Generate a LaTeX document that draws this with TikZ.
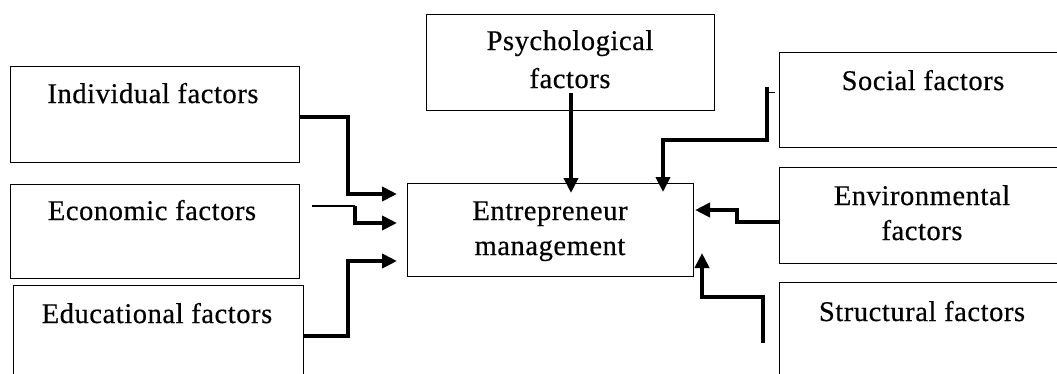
\documentclass[tikz,border=0pt]{standalone}
\usepackage{fontspec}
\setmainfont{Liberation Serif}
\newfontfamily\boxfont[LetterSpace=2.0,FakeBold=0.5]{Liberation Serif}
\usetikzlibrary{arrows.meta}
\begin{document}
\begin{tikzpicture}[x=1pt,y=-1pt,
  box/.style={draw=black,line width=1pt,rectangle,inner sep=0pt},
  txt/.style={anchor=base,inner sep=0pt,font=\boxfont\fontsize{28.5}{32}\selectfont},
  conn/.style={draw=black,line width=4pt,-{Triangle[length=15pt,width=14pt]}},
  plain/.style={draw=black,line width=4pt}]
\useasboundingbox (0,0) rectangle (1057,373);
\clip (0,0) rectangle (1057,373);
% boxes
\node[box,minimum width=289pt,minimum height=96pt] (ind) at (154.5,114) {};
\node[box,minimum width=289pt,minimum height=94pt] (eco) at (154.5,231) {};
\node[box,minimum width=290pt,minimum height=110pt] (edu) at (158,340) {};
\node[box,minimum width=288pt,minimum height=96pt] (psy) at (570,62) {};
\node[box,minimum width=286pt,minimum height=93pt] (cen) at (550,229.5) {};
\node[box,minimum width=296pt,minimum height=95pt] (soc) at (927,99.5) {};
\node[box,minimum width=296pt,minimum height=96pt] (env) at (927,215) {};
\node[box,minimum width=296pt,minimum height=113pt] (str) at (927,338.5) {};
% texts
\node[txt] (indt) at (153,103) {Individual factors};
\node[txt] (ecot) at (152,220) {Economic factors};
\node[txt] (edut) at (157,323) {Educational factors};
\node[txt] (psyt1) at (570,50) {Psychological};
\node[txt] (psyt2) at (570,88) {factors};
\node[txt] (cent1) at (550,220) {Entrepreneur};
\node[txt] (cent2) at (550,255) {management};
\node[txt] (soct) at (923,90) {Social factors};
\node[txt] (envt1) at (922,205) {Environmental};
\node[txt] (envt2) at (922,240) {factors};
\node[txt] (strt) at (922,321) {Structural factors};
% connector ends
\coordinate (t1) at (397,194);
\coordinate (e0) at (312,206);
\coordinate (t2) at (397,223);
\coordinate (t3) at (397,261);
\coordinate (p0) at (571,93);
\coordinate (p1) at (571,193);
\coordinate (s0) at (767,87);
\coordinate (s1) at (663,192);
\coordinate (v1) at (695,210);
\coordinate (r0) at (763,343);
\coordinate (r1) at (702,253);
\coordinate (k0) at (768,92);
\coordinate (k1) at (775,92);
% connectors
\draw[conn] ([yshift=-3pt]ind.east) -| (348,194) -- (t1);
\draw[black,line width=2pt] (e0) -- (355,206);
\draw[conn] (355,206) -- (355,223) -- (t2);
\draw[conn] ([yshift=4pt]edu.east) -| (348,261) -- (t3);
\draw[conn] (p0) -- (p1);
\draw[conn] (s0) -- (767,140) -| (s1);
\draw[black,line width=1pt] (k0) -- (k1);
\draw[conn] ([yshift=-7pt]env.west) -| (737,210) -- (v1);
\draw[conn] (r0) |- (702,297) -- (r1);
\end{tikzpicture}
\end{document}
